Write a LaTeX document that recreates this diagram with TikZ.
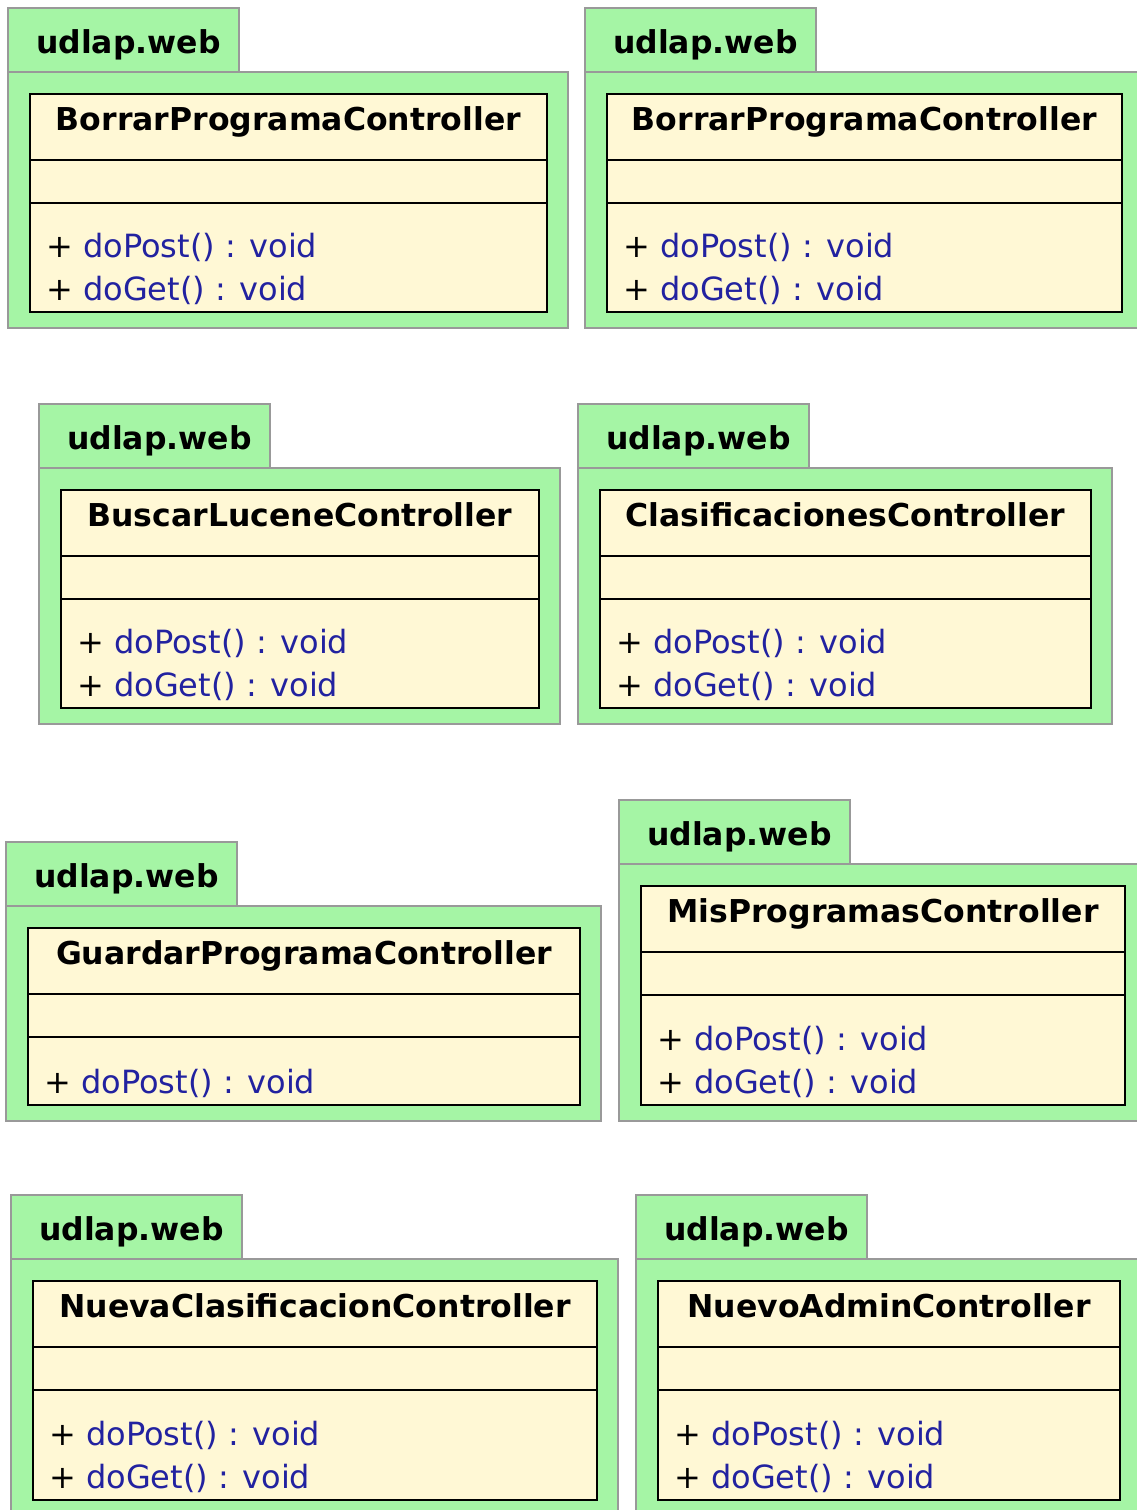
\documentclass[tikz,border=0pt]{standalone}
\usepackage{fontspec}
\setmainfont{DejaVu Sans}
\definecolor{pkggreen}{HTML}{A5F5A5}
\definecolor{pkgline}{HTML}{999999}
\definecolor{classfill}{HTML}{FFF8D5}
\definecolor{methblue}{HTML}{2222A0}
\tikzset{
  pkgshape/.style={fill=pkggreen, draw=pkgline, line width=2pt, line join=miter},
  pkgsep/.style={draw=pkgline, line width=2pt},
  classbox/.style={fill=classfill, draw=black, line width=2pt},
  divider/.style={draw=black, line width=2pt},
  pkglabel/.style={anchor=base west, inner sep=0pt, font=\fontsize{31.5}{36}\selectfont\bfseries},
  classtitle/.style={anchor=base, inner sep=0pt, font=\fontsize{31.5}{36}\selectfont\bfseries},
  methods/.style={anchor=base west, inner sep=0pt, align=left, font=\fontsize{32}{42.5}\selectfont},
}
\newcommand\meth[1]{+ \textcolor{methblue}{#1}}
% #1 id, #2 tab left x, #3 tab top y, #4 class right x, #5 class bottom y,
% #6 title, #7 methods (node base = last line baseline)
\newcommand\umlpkg[7]{%
  \pgfmathsetmacro\pR{#4+21}%
  \pgfmathsetmacro\pB{#5+16}%
  \draw[pkgshape] (#2,#3) -- (#2+231,#3) -- (#2+231,#3+64) -- (\pR,#3+64)
     -- (\pR,\pB) -- (#2,\pB) -- cycle;
  \draw[pkgsep] (#2,#3+64) -- (#2+231,#3+64);
  \node[pkglabel] (#1-pkg) at (#2+28,#3+45) {udlap.web};
  \coordinate (#1-nw) at (#2+22,#3+86);
  \coordinate (#1-se) at (#4,#5);
  \draw[classbox] (#1-nw) rectangle (#1-se);
  \draw[divider] (#2+22,#3+152) -- (#4,#3+152);
  \draw[divider] (#2+22,#3+195) -- (#4,#3+195);
  \node[classtitle] (#1-title) at ({(#2+22+#4)/2},#3+122) {#6};
  \node[methods] (#1-methods) at (#2+38,#5-12) {#7};
}
\begin{document}
\begin{tikzpicture}[x=1pt,y=-1pt]
  \useasboundingbox[fill=white] (0,0) rectangle (1137,1510);
  \umlpkg{a}{8}{8}{547}{312}{BorrarProgramaController}{\meth{doPost() : void}\\\meth{doGet() : void}}
  \umlpkg{b}{585}{8}{1122}{312}{BorrarProgramaController}{\meth{doPost() : void}\\\meth{doGet() : void}}
  \umlpkg{c}{39}{404}{539}{708}{BuscarLuceneController}{\meth{doPost() : void}\\\meth{doGet() : void}}
  \umlpkg{d}{578}{404}{1091}{708}{ClasificacionesController}{\meth{doPost() : void}\\\meth{doGet() : void}}
  \umlpkg{e}{6}{842}{580}{1105}{GuardarProgramaController}{\meth{doPost() : void}}
  \umlpkg{f}{619}{800}{1125}{1105}{MisProgramasController}{\meth{doPost() : void}\\\meth{doGet() : void}}
  \umlpkg{g}{11}{1195}{597}{1500}{NuevaClasificacionController}{\meth{doPost() : void}\\\meth{doGet() : void}}
  \umlpkg{h}{636}{1195}{1120}{1500}{NuevoAdminController}{\meth{doPost() : void}\\\meth{doGet() : void}}
\end{tikzpicture}
\end{document}
